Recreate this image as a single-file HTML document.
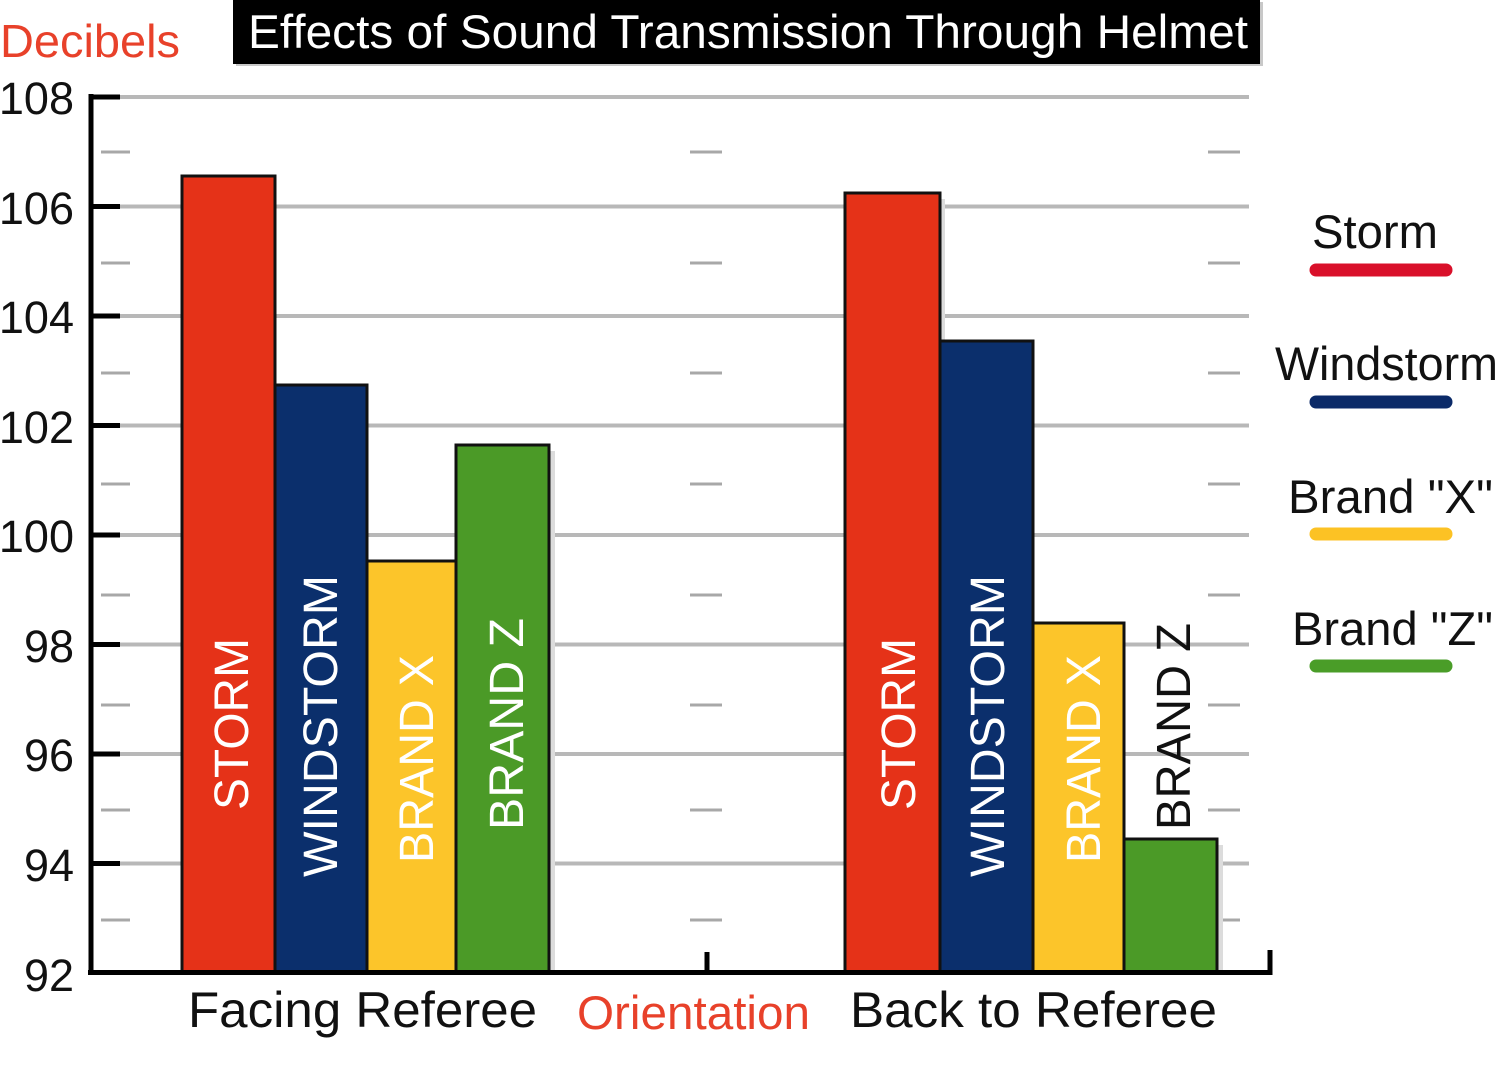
<!DOCTYPE html>
<html><head><meta charset="utf-8"><style>
html,body{margin:0;padding:0;background:#fff;}
svg{display:block;}
text{font-family:"Liberation Sans",Arial,sans-serif;}
</style></head><body>
<svg width="1500" height="1068" viewBox="0 0 1500 1068" xmlns="http://www.w3.org/2000/svg">
<rect width="1500" height="1068" fill="#fff"/>
<!-- title -->
<rect x="236" y="2" width="1027" height="64" fill="#c8c8c8"/>
<rect x="233" y="0" width="1027" height="64" fill="#000"/>
<text x="248" y="48" font-size="47" fill="#fff" textLength="1000" lengthAdjust="spacingAndGlyphs">Effects of Sound Transmission Through Helmet</text>
<text x="0" y="57" font-size="46" fill="#e8412a" textLength="180" lengthAdjust="spacingAndGlyphs">Decibels</text>
<!-- gridlines -->
<g stroke="#b8b8b8" stroke-width="4">
<line x1="120" y1="97" x2="1249" y2="97"/>
<line x1="120" y1="206.5" x2="1249" y2="206.5"/>
<line x1="120" y1="316" x2="1249" y2="316"/>
<line x1="120" y1="425.5" x2="1249" y2="425.5"/>
<line x1="120" y1="535" x2="1249" y2="535"/>
<line x1="120" y1="644.5" x2="1249" y2="644.5"/>
<line x1="120" y1="754" x2="1249" y2="754"/>
<line x1="120" y1="863.5" x2="1249" y2="863.5"/>
</g>
<g stroke="#a8a8a8" stroke-width="3">
<path d="M101 152H130M690 152H722M1208 152H1240"/>
<path d="M101 263H130M690 263H722M1208 263H1240"/>
<path d="M101 373H130M690 373H722M1208 373H1240"/>
<path d="M101 484H130M690 484H722M1208 484H1240"/>
<path d="M101 595H130M690 595H722M1208 595H1240"/>
<path d="M101 705H130M690 705H722M1208 705H1240"/>
<path d="M101 810H130M690 810H722M1208 810H1240"/>
<path d="M101 920H130M690 920H722M1208 920H1240"/>
</g>
<!-- shadows -->
<g fill="#dcdcdc">
<rect x="549" y="451" width="6" height="521"/>
<rect x="1217" y="845" width="6" height="127"/>
<rect x="940" y="199" width="5" height="142"/>
</g>
<!-- bars -->
<g stroke="#111" stroke-width="3">
<rect x="182" y="176" width="93" height="796" fill="#e53218"/>
<rect x="275" y="385" width="92" height="587" fill="#0b2f6c"/>
<rect x="367" y="561" width="89" height="411" fill="#fcc52a"/>
<rect x="456" y="445" width="93" height="527" fill="#4b9a27"/>
<rect x="845" y="193" width="95" height="779" fill="#e53218"/>
<rect x="940" y="341" width="93" height="631" fill="#0b2f6c"/>
<rect x="1033" y="623" width="91" height="349" fill="#fcc52a"/>
<rect x="1124" y="839" width="93" height="133" fill="#4b9a27"/>
</g>
<!-- bar labels -->
<g font-size="48" fill="#fff">
<text transform="translate(248,810) rotate(-90)" textLength="172" lengthAdjust="spacingAndGlyphs">STORM</text>
<text transform="translate(337,877) rotate(-90)" textLength="302" lengthAdjust="spacingAndGlyphs">WINDSTORM</text>
<text transform="translate(433,863) rotate(-90)" textLength="208" lengthAdjust="spacingAndGlyphs">BRAND X</text>
<text transform="translate(523,830) rotate(-90)" textLength="212" lengthAdjust="spacingAndGlyphs">BRAND Z</text>
<text transform="translate(915,810) rotate(-90)" textLength="172" lengthAdjust="spacingAndGlyphs">STORM</text>
<text transform="translate(1004,877) rotate(-90)" textLength="302" lengthAdjust="spacingAndGlyphs">WINDSTORM</text>
<text transform="translate(1100,863) rotate(-90)" textLength="208" lengthAdjust="spacingAndGlyphs">BRAND X</text>
<text transform="translate(1190,830) rotate(-90)" textLength="207" lengthAdjust="spacingAndGlyphs" fill="#111">BRAND Z</text>
</g>
<!-- axes -->
<g stroke="#000" stroke-width="5" fill="none">
<line x1="91" y1="94" x2="91" y2="975"/>
<line x1="88" y1="972.5" x2="1272" y2="972.5"/>
<line x1="707" y1="952" x2="707" y2="972"/>
<line x1="1270" y1="950" x2="1270" y2="975"/>
<path d="M91 97H120M91 206.5H120M91 316H120M91 425.5H120M91 535H120M91 644.5H120M91 754H120M91 863.5H120"/>
</g>
<!-- y tick labels -->
<g font-size="45" fill="#111" text-anchor="end">
<text x="74" y="114">108</text>
<text x="74" y="224">106</text>
<text x="74" y="333">104</text>
<text x="74" y="443">102</text>
<text x="74" y="552">100</text>
<text x="74" y="662">98</text>
<text x="74" y="771">96</text>
<text x="74" y="881">94</text>
<text x="74" y="991">92</text>
</g>
<!-- x labels -->
<text x="188" y="1027" font-size="50" fill="#111" textLength="349" lengthAdjust="spacingAndGlyphs">Facing Referee</text>
<text x="577" y="1029" font-size="47" fill="#e8412a" textLength="233" lengthAdjust="spacingAndGlyphs">Orientation</text>
<text x="850" y="1027" font-size="50" fill="#111" textLength="367" lengthAdjust="spacingAndGlyphs">Back to Referee</text>
<!-- legend -->
<g font-size="47" fill="#111">
<text x="1312" y="248" textLength="126" lengthAdjust="spacingAndGlyphs">Storm</text>
<text x="1275" y="380" textLength="223" lengthAdjust="spacingAndGlyphs">Windstorm</text>
<text x="1288" y="513" textLength="205" lengthAdjust="spacingAndGlyphs">Brand "X"</text>
<text x="1292" y="645" textLength="201" lengthAdjust="spacingAndGlyphs">Brand "Z"</text>
</g>
<g stroke-width="13" stroke-linecap="round">
<line x1="1316" y1="270" x2="1446" y2="270" stroke="#d9102a"/>
<line x1="1316" y1="402" x2="1446" y2="402" stroke="#0b2a68"/>
<line x1="1316" y1="534" x2="1446" y2="534" stroke="#fcc224"/>
<line x1="1316" y1="666" x2="1446" y2="666" stroke="#4a9d28"/>
</g>
</svg>
</body></html>
